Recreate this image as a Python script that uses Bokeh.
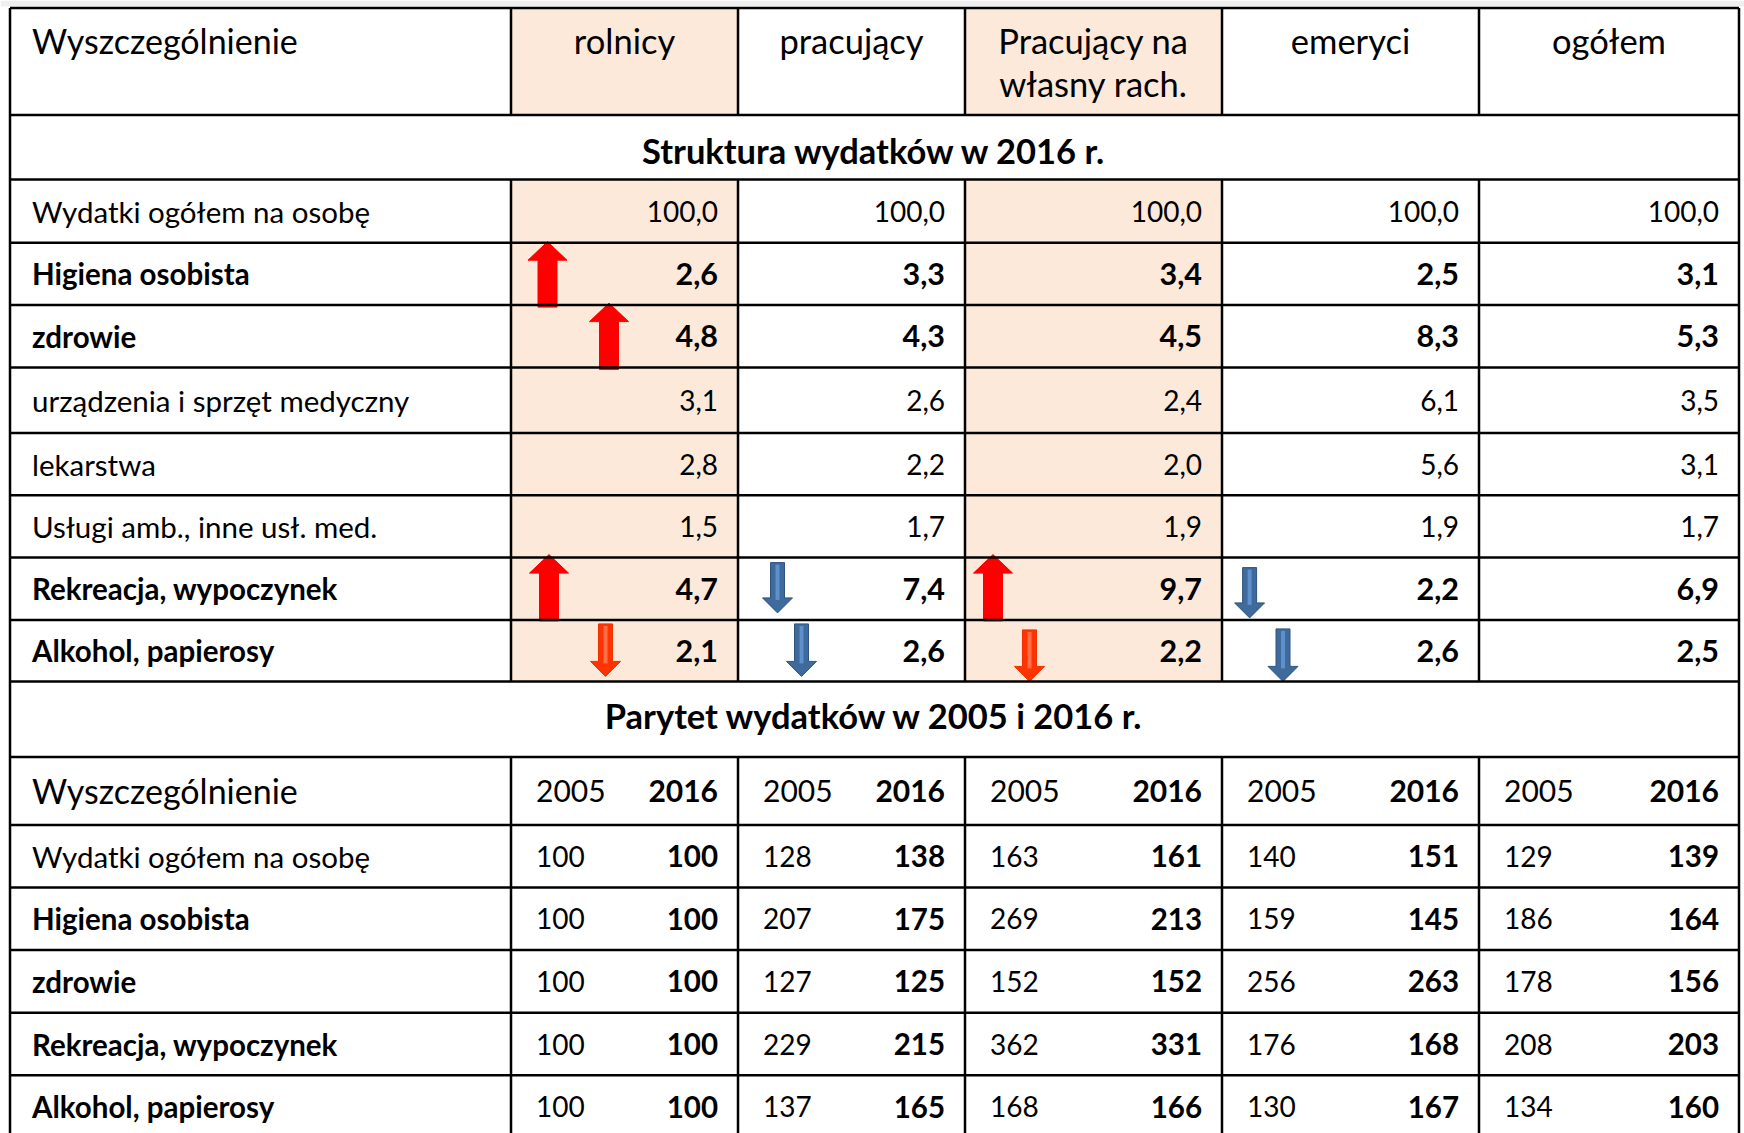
from bokeh.plotting import figure
from bokeh.models import Range1d
from bokeh.embed import file_html
from bokeh.resources import INLINE
from bokeh.core.properties import value

# ---------------- data ----------------
first_header = "Wyszczególnienie"
groups = ["rolnicy", "pracujący", "Pracujący na\nwłasny rach.", "emeryci", "ogółem"]
highlight_groups = [True, False, True, False, False]
section_struct = "Struktura wydatków w 2016 r."
section_parity = "Parytet wydatków w 2005 i 2016 r."

struct_labels = ["Wydatki ogółem na osobę", "Higiena osobista", "zdrowie",
                 "urządzenia i sprzęt medyczny", "lekarstwa",
                 "Usługi amb., inne usł. med.", "Rekreacja, wypoczynek",
                 "Alkohol, papierosy"]
struct_bold = [False, True, True, False, False, False, True, True]
s_rolnicy = [100.0, 2.6, 4.8, 3.1, 2.8, 1.5, 4.7, 2.1]
s_pracujacy = [100.0, 3.3, 4.3, 2.6, 2.2, 1.7, 7.4, 2.6]
s_wlasny = [100.0, 3.4, 4.5, 2.4, 2.0, 1.9, 9.7, 2.2]
s_emeryci = [100.0, 2.5, 8.3, 6.1, 5.6, 1.9, 2.2, 2.6]
s_ogolem = [100.0, 3.1, 5.3, 3.5, 3.1, 1.7, 6.9, 2.5]

years = ["2005", "2016"]
parity_labels = ["Wydatki ogółem na osobę", "Higiena osobista", "zdrowie",
                 "Rekreacja, wypoczynek", "Alkohol, papierosy"]
parity_bold = [False, True, True, True, True]
p2005_rolnicy = [100, 100, 100, 100, 100]
p2016_rolnicy = [100, 100, 100, 100, 100]
p2005_pracujacy = [128, 207, 127, 229, 137]
p2016_pracujacy = [138, 175, 125, 215, 165]
p2005_wlasny = [163, 269, 152, 362, 168]
p2016_wlasny = [161, 213, 152, 331, 166]
p2005_emeryci = [140, 159, 256, 176, 130]
p2016_emeryci = [151, 145, 263, 168, 167]
p2005_ogolem = [129, 186, 178, 208, 134]
p2016_ogolem = [139, 164, 156, 203, 160]

# change markers (row, group, direction, tone)
arrow_rows = ["Higiena osobista", "zdrowie", "Rekreacja, wypoczynek", "Alkohol, papierosy",
              "Rekreacja, wypoczynek", "Alkohol, papierosy",
              "Rekreacja, wypoczynek", "Alkohol, papierosy",
              "Rekreacja, wypoczynek", "Alkohol, papierosy"]
arrow_groups = [0, 0, 0, 0, 1, 1, 2, 2, 3, 3]
arrow_dirs = ["up", "up", "up", "down", "down", "down", "up", "down", "down", "down"]
arrow_tones = ["red", "red", "red", "orange", "blue", "blue", "red", "orange", "blue", "blue"]

# ---------------- layout / style ----------------
W, H = 1744, 1133
X0 = 9.5
col_widths = [501, 227, 227, 257, 257, 260]
x_edges = [X0]
for w in col_widths:
    x_edges.append(x_edges[-1] + w)
X1 = x_edges[-1]

Y0 = 7.5
h_header, h_section = 107, 64.5
struct_heights = [63.2, 62.4, 62.3, 65.6, 62.3, 62.3, 62.3, 61.5]
h_section2, h_header2, h_row2 = 75.5, 68, 62.6

FONT = value("Lato")
PEACH = "#FDE9D9"
TONES = {"red": ("#FF0000", "#FF0000", None),
         "orange": ("#FF3300", "#F03000", "#FF7048"),
         "blue": ("#3E6A9C", "#2F5481", "#5E90CC")}
arrow_dx = [36.5, 98, 38, 94.5, 39.5, 63.5, 28, 64.5, 27.6, 61]
arrow_top_off = [-1, -2, -3, 4, 5, 4, -3, 10, 10, 9]
arrow_bot_off = [2, 2, 1, -5, -7, -5, 1, 0, -2, 0]
LW = 2.5

p = figure(width=W, height=H, output_backend="svg", toolbar_location=None,
           x_range=Range1d(0, W), y_range=Range1d(H, 0),
           min_border=0, outline_line_color=None)
p.axis.visible = False
p.grid.visible = False
p.background_fill_color = "white"
p.border_fill_color = "white"

# thin grey strip at the very top
p.quad(left=[0], right=[W], top=[0], bottom=[Y0 - 1.5], fill_color="#EFEFEF", line_color=None)

# row boundaries
y_head_bot = Y0 + h_header
y_sec1_bot = y_head_bot + h_section
struct_tops = []
acc = y_sec1_bot
for h in struct_heights:
    struct_tops.append(acc)
    acc += h
y_struct_bot = acc
y_sec2_bot = y_struct_bot + h_section2
y_head2_bot = y_sec2_bot + h_header2
parity_tops = [y_head2_bot + i * h_row2 for i in range(len(parity_labels))]
y_bottom = y_head2_bot + h_row2 * len(parity_labels)

# peach backgrounds
for gi, hl in enumerate(highlight_groups):
    if hl:
        l, r = x_edges[gi + 1], x_edges[gi + 2]
        p.quad(left=[l, l], right=[r, r], top=[Y0, y_sec1_bot],
               bottom=[y_head_bot, y_struct_bot], fill_color=PEACH, line_color=None)

# arrows
struct_index = {lab: i for i, lab in enumerate(struct_labels)}
for k in range(len(arrow_rows)):
    ri = struct_index[arrow_rows[k]]
    top = struct_tops[ri] + arrow_top_off[k]
    bot = struct_tops[ri] + struct_heights[ri] + arrow_bot_off[k]
    cx = x_edges[arrow_groups[k] + 1] + arrow_dx[k]
    fill, line, inner = TONES[arrow_tones[k]]
    if arrow_dirs[k] == "up":
        hw, sw, hl = 39, 19, 18.5
        xs = [cx, cx + hw / 2, cx + sw / 2, cx + sw / 2, cx - sw / 2, cx - sw / 2, cx - hw / 2]
        ys = [top, top + hl, top + hl, bot, bot, top + hl, top + hl]
    else:
        hw, sw, hl = 30, 14, 15
        xs = [cx, cx + hw / 2, cx + sw / 2, cx + sw / 2, cx - sw / 2, cx - sw / 2, cx - hw / 2]
        ys = [bot, bot - hl, bot - hl, top, top, bot - hl, bot - hl]
    p.patch(xs, ys, fill_color=fill, line_color=line, line_width=1)
    if inner:
        p.line([cx, cx], [top + 2, bot - hl + 2], line_color=inner, line_width=4)

# grid lines
h_lines = [Y0, y_head_bot, y_sec1_bot] + struct_tops[1:] + [y_struct_bot, y_sec2_bot, y_head2_bot] + parity_tops[1:] + [y_bottom]
p.segment(x0=[X0] * len(h_lines), x1=[X1] * len(h_lines), y0=h_lines, y1=h_lines,
          line_color="black", line_width=LW)
p.segment(x0=[X0, X1], x1=[X0, X1], y0=[Y0, Y0], y1=[y_bottom, y_bottom],
          line_color="black", line_width=LW)
inner_x = x_edges[1:-1]
for (a, b) in [(Y0, y_head_bot), (y_sec1_bot, y_struct_bot), (y_sec2_bot, y_bottom)]:
    p.segment(x0=inner_x, x1=inner_x, y0=[a] * len(inner_x), y1=[b] * len(inner_x),
              line_color="black", line_width=LW)

def txt(x, y, s, size, bold=False, align="left"):
    p.text(x=[x], y=[y], text=[s], text_font=FONT, text_font_size=size,
           text_font_style="bold" if bold else "normal", text_align=align,
           text_baseline="middle", text_color="black")

# header
txt(X0 + 22, Y0 + 32, first_header, "34px")
for gi, g in enumerate(groups):
    cxm = (x_edges[gi + 1] + x_edges[gi + 2]) / 2
    for li, line in enumerate(g.split("\n")):
        txt(cxm, Y0 + 32 + li * 43.5, line, "34.5px", align="center")

mid_x = (X0 + X1) / 2
txt(mid_x, (y_head_bot + y_sec1_bot) / 2 + 3, section_struct, "34.5px", bold=True, align="center")

def fmt1(v):
    return f"{v:.1f}".replace(".", ",")

struct_cols = [s_rolnicy, s_pracujacy, s_wlasny, s_emeryci, s_ogolem]
for i, lab in enumerate(struct_labels):
    yc = struct_tops[i] + struct_heights[i] / 2
    b = struct_bold[i]
    txt(X0 + 22, yc, lab, "29.5px", bold=b)
    for gi, col in enumerate(struct_cols):
        txt(x_edges[gi + 2] - 20, yc, fmt1(col[i]), "30.5px" if b else "28px", bold=b, align="right")

txt(mid_x, (y_struct_bot + y_sec2_bot) / 2 - 4, section_parity, "34.5px", bold=True, align="center")

yh2 = (y_sec2_bot + y_head2_bot) / 2
txt(X0 + 22, yh2, first_header, "34px")
for gi in range(len(groups)):
    txt(x_edges[gi + 1] + 25, yh2, years[0], "30px")
    txt(x_edges[gi + 2] - 20, yh2, years[1], "30px", bold=True, align="right")

p2005 = [p2005_rolnicy, p2005_pracujacy, p2005_wlasny, p2005_emeryci, p2005_ogolem]
p2016 = [p2016_rolnicy, p2016_pracujacy, p2016_wlasny, p2016_emeryci, p2016_ogolem]
for i, lab in enumerate(parity_labels):
    yc = parity_tops[i] + h_row2 / 2
    txt(X0 + 22, yc, lab, "29.5px", bold=parity_bold[i])
    for gi in range(len(groups)):
        txt(x_edges[gi + 1] + 25, yc, str(p2005[gi][i]), "28px")
        txt(x_edges[gi + 2] - 20, yc, str(p2016[gi][i]), "29.5px", bold=True, align="right")

open("out.html", "w").write(file_html(p, INLINE))
